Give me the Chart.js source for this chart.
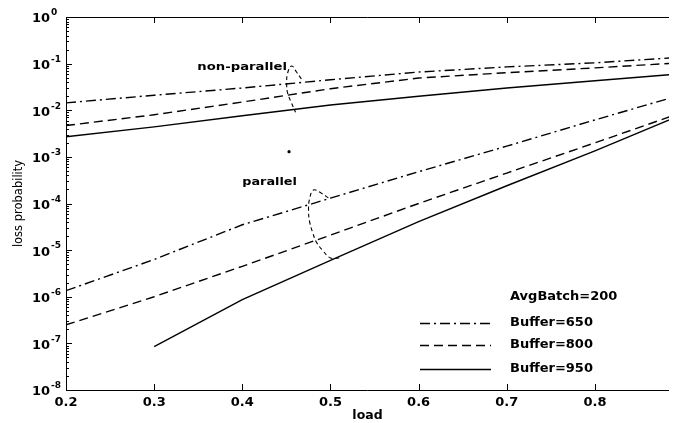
<!DOCTYPE html>
<html>
<head>
<meta charset="utf-8">
<script src="https://cdn.jsdelivr.net/npm/chart.js@4"></script>
<style>
  html, body { margin: 0; padding: 0; background: #fff; }
  #wrap { width: 673px; height: 423px; }
</style>
</head>
<body>
<div id="wrap"><canvas id="chart" width="673" height="423"></canvas></div>
<script>
// load values where the curves were sampled
const loads = [0.2, 0.3, 0.4, 0.5, 0.6, 0.7, 0.8, 0.9];

// non-parallel curves (upper group)
const nonPar650 = [0.0144, 0.021, 0.030, 0.045, 0.066, 0.085, 0.104, 0.138];
const nonPar800 = [0.0047, 0.008, 0.015, 0.029, 0.049, 0.064, 0.081, 0.105];
const nonPar950 = [0.0027, 0.0044, 0.0076, 0.013, 0.020, 0.030, 0.043, 0.061];

// parallel curves (lower group)
const par650 = [1.35e-6, 6.3e-6, 3.5e-5, 1.3e-4, 4.8e-4, 1.7e-3, 6.2e-3, 2.2e-2];
const par800 = [2.5e-7, 1.0e-6, 4.5e-6, 2.1e-5, 1.0e-4, 4.5e-4, 2.0e-3, 9.1e-3];
const par950 = [null, 8.5e-8, 8.7e-7, 6.0e-6, 4.1e-5, 2.4e-4, 1.35e-3, 8.3e-3];

// hand-drawn brackets pointing at each group
const upperBraceLoad = [0.467, 0.4615, 0.456, 0.4514, 0.4503, 0.4514, 0.4548, 0.4604];
const upperBraceProb = [0.0468, 0.066, 0.089, 0.063, 0.0363, 0.0234, 0.0158, 0.0091];
const lowerBraceLoad = [0.4976, 0.4897, 0.4807, 0.4762, 0.4751, 0.4762, 0.4796, 0.4841, 0.4909, 0.4999, 0.5112];
const lowerBraceProb = [1.32e-4, 1.66e-4, 1.95e-4, 1.23e-4, 7.2e-5, 4.2e-5, 2.45e-5, 1.48e-5, 1.0e-5, 6.8e-6, 6.8e-6];

// stray dot between the groups
const dotLoad = [0.453];
const dotProb = [1.29e-3];

// axis ticks
const xTicks = [0.2, 0.3, 0.4, 0.5, 0.6, 0.7, 0.8];
const yDecades = [0, -1, -2, -3, -4, -5, -6, -7, -8];

const annotations = [
    { text: 'non-parallel', load: 0.349, prob: 0.085, stretch: 1.32 },
    { text: 'parallel', load: 0.40, prob: 2.8e-4, stretch: 1.28 },
];

const FONT = '"DejaVu Sans", sans-serif';
const DASH_DOT = [10, 4, 2, 4];
const DASHED = [9, 5];

const pts = (xs, ys) => xs.map((x, i) => ({ x, y: ys[i] }));

function curve(label, values, dash) {
    return {
        label,
        data: pts(loads, values),
        borderColor: '#000',
        borderWidth: 1.4,
        borderDash: dash,
        pointRadius: 0,
        fill: false,
        tension: 0,
    };
}

function brace(xs, ys) {
    return {
        label: '',
        data: pts(xs, ys),
        borderColor: '#000',
        borderWidth: 1.1,
        borderDash: [4, 3],
        pointRadius: 0,
        tension: 0.4,
        fill: false,
    };
}

// frame, inward ticks and 10^n labels, drawn the matlab way
const frame = {
    id: 'frame',
    afterDatasetsDraw(chart) {
        const { ctx, chartArea: a, scales: { x, y } } = chart;
        ctx.save();
        ctx.strokeStyle = '#000';
        ctx.lineWidth = 1;
        ctx.beginPath();
        ctx.moveTo(a.left + 0.5, a.top + 0.5);
        ctx.lineTo(a.right, a.top + 0.5);
        ctx.moveTo(a.left + 0.5, a.top);
        ctx.lineTo(a.left + 0.5, a.bottom + 0.5);
        ctx.lineTo(a.right, a.bottom + 0.5);

        xTicks.forEach((v) => {
            const px = Math.round(x.getPixelForValue(v)) + 0.5;
            ctx.moveTo(px, a.bottom);
            ctx.lineTo(px, a.bottom - 6);
            ctx.moveTo(px, a.top);
            ctx.lineTo(px, a.top + 6);
        });

        yDecades.forEach((e) => {
            const py = Math.round(y.getPixelForValue(Math.pow(10, e))) + 0.5;
            ctx.moveTo(a.left, py);
            ctx.lineTo(a.left + 6, py);
            if (e < 0) {
                for (let m = 2; m <= 9; m++) {
                    const pm = Math.round(y.getPixelForValue(m * Math.pow(10, e))) + 0.5;
                    ctx.moveTo(a.left, pm);
                    ctx.lineTo(a.left + 3, pm);
                }
            }
        });
        ctx.stroke();

        ctx.fillStyle = '#000';
        ctx.textBaseline = 'middle';
        yDecades.forEach((e) => {
            const py = y.getPixelForValue(Math.pow(10, e));
            ctx.font = 'bold 13px ' + FONT;
            ctx.textAlign = 'right';
            ctx.fillText('10', a.left - 16, py + 2);
            ctx.font = 'bold 9px ' + FONT;
            ctx.textAlign = 'left';
            ctx.fillText(String(e), a.left - 15, py - 4);
        });

        ctx.font = 'bold 10px ' + FONT;
        ctx.textAlign = 'left';
        annotations.forEach((n) => {
            ctx.save();
            ctx.translate(x.getPixelForValue(n.load), y.getPixelForValue(n.prob));
            ctx.scale(n.stretch, 1);
            ctx.fillText(n.text, 0, 0);
            ctx.restore();
        });
        ctx.restore();
    },
};

// legend box in the lower right, bottom row clipped like the original
const boxLegend = {
    id: 'boxLegend',
    afterDraw(chart) {
        const { ctx } = chart;
        const rows = [323, 345, 369];
        ctx.save();
        ctx.beginPath();
        ctx.rect(400, 280, 273, 94);
        ctx.clip();
        ctx.fillStyle = '#000';
        ctx.strokeStyle = '#000';
        ctx.font = 'bold 13px ' + FONT;
        ctx.textAlign = 'left';
        ctx.textBaseline = 'middle';
        ctx.fillText('AvgBatch=200', 510, 297);
        chart.data.datasets.slice(0, 3).forEach((ds, i) => {
            ctx.lineWidth = ds.borderWidth;
            ctx.setLineDash(ds.borderDash);
            ctx.beginPath();
            ctx.moveTo(420, rows[i] + 0.5);
            ctx.lineTo(491, rows[i] + 0.5);
            ctx.stroke();
            ctx.fillText(ds.label, 510, rows[i]);
        });
        ctx.restore();
    },
};

new Chart(document.getElementById('chart'), {
    type: 'line',
    data: {
        datasets: [
            curve('Buffer=650', nonPar650, DASH_DOT),
            curve('Buffer=800', nonPar800, DASHED),
            curve('Buffer=950', nonPar950, []),
            curve('Buffer=650', par650, DASH_DOT),
            curve('Buffer=800', par800, DASHED),
            curve('Buffer=950', par950, []),
            brace(upperBraceLoad, upperBraceProb),
            brace(lowerBraceLoad, lowerBraceProb),
            {
                label: '',
                data: pts(dotLoad, dotProb),
                showLine: false,
                pointRadius: 1.6,
                pointBackgroundColor: '#000',
                pointBorderWidth: 0,
            },
        ],
    },
    options: {
        responsive: false,
        animation: false,
        devicePixelRatio: 1,
        layout: { padding: { top: 17, right: 0, left: 0, bottom: 0 } },
        plugins: {
            legend: { display: false },
            tooltip: { enabled: false },
        },
        scales: {
            x: {
                type: 'linear',
                min: 0.2,
                max: 0.884,
                afterBuildTicks: (s) => { s.ticks = xTicks.map((value) => ({ value })); },
                afterFit: (s) => { s.height = 33; },
                grid: { display: false, drawTicks: false },
                border: { display: false },
                ticks: {
                    color: '#000',
                    padding: 5,
                    maxRotation: 0,
                    font: { family: FONT, size: 13, weight: 'bold' },
                    callback: (v) => Number(v).toFixed(1),
                },
                title: {
                    display: true,
                    text: 'load',
                    color: '#000',
                    font: { family: FONT, size: 12.5, weight: 'bold' },
                    padding: { top: 0, bottom: 0 },
                },
            },
            y: {
                type: 'logarithmic',
                min: 1e-8,
                max: 1,
                afterFit: (s) => { s.width = 66; },
                grid: { display: false, drawTicks: false },
                border: { display: false },
                ticks: { display: false },
                title: {
                    display: true,
                    text: 'loss probability',
                    color: '#000',
                    font: { family: FONT, size: 11.5 },
                    padding: { top: 12, bottom: 0 },
                },
            },
        },
    },
    plugins: [frame, boxLegend],
});
</script>
</body>
</html>
